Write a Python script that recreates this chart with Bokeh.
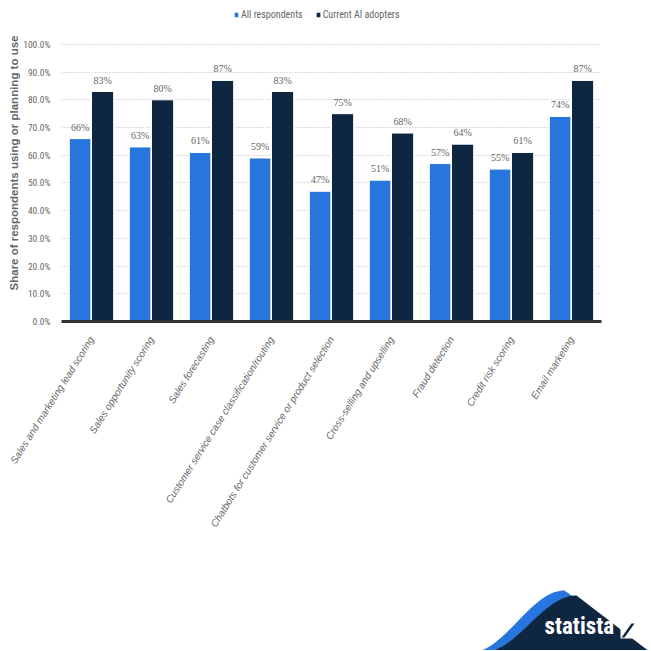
import numpy as np
from bokeh.plotting import figure
from bokeh.models import (ColumnDataSource, FactorRange, FixedTicker, LabelSet,
                          Legend, LegendItem, Label, CustomJSTickFormatter)
from bokeh.transform import dodge
from bokeh.layouts import column, row
from bokeh.embed import file_html
from bokeh.resources import INLINE

categories = [
    "Sales and marketing lead scoring",
    "Sales opportunity scoring",
    "Sales forecasting",
    "Customer service case classification/routing",
    "Chatbots for customer service or product selection",
    "Cross-selling and upselling",
    "Fraud detection",
    "Credit risk scoring",
    "Email marketing",
]
all_respondents = [66, 63, 61, 59, 47, 51, 57, 55, 74]
current_ai_adopters = [83, 80, 87, 83, 75, 68, 64, 61, 87]
y_ticks = [0, 10, 20, 30, 40, 50, 60, 70, 80, 90, 100]

BLUE = "#2876dd"
NAVY = "#0f2641"
GREY = "#666666"
FONT = "Liberation Sans Narrow, Arial Narrow, Roboto Condensed, Liberation Sans, sans-serif"

src = ColumnDataSource(dict(
    cat=categories,
    a=all_respondents,
    b=current_ai_adopters,
    a_lbl=[f"{v}%" for v in all_respondents],
    b_lbl=[f"{v}%" for v in current_ai_adopters],
))

p = figure(x_range=FactorRange(*categories, range_padding=0), y_range=(0, 114.4),
           width=650, height=580, output_backend="svg", toolbar_location=None,
           min_border_left=61, min_border_right=49, min_border_top=4, min_border_bottom=259)
p.outline_line_color = None

ra = p.vbar(x=dodge("cat", -0.19, range=p.x_range), top="a", width=0.36, source=src,
            fill_color=BLUE, line_color="white", line_width=1)
rb = p.vbar(x=dodge("cat", 0.185, range=p.x_range), top="b", width=0.37, source=src,
            fill_color=NAVY, line_color="white", line_width=1)

for key, lbl, off in (("a", "a_lbl", -0.19), ("b", "b_lbl", 0.185)):
    p.add_layout(LabelSet(x=dodge("cat", off, range=p.x_range), y=key, text=lbl, source=src,
                          text_align="center", text_baseline="bottom", y_offset=6,
                          text_font_size="10px", text_color=GREY, text_font=FONT))

legend = Legend(items=[LegendItem(label="All respondents", renderers=[ra]),
                       LegendItem(label="Current AI adopters", renderers=[rb])],
                location=(172, 301), orientation="horizontal",
                label_text_font_size="10px", label_text_color=GREY, label_text_font=FONT,
                glyph_width=6, glyph_height=7, label_standoff=2, spacing=12,
                border_line_color=None, background_fill_alpha=0, margin=0, padding=2,
                label_height=10)
p.add_layout(legend)

p.yaxis.ticker = FixedTicker(ticks=y_ticks)
p.yaxis.formatter = CustomJSTickFormatter(code="return tick.toFixed(1) + '%';")
p.yaxis.axis_line_color = None
p.yaxis.major_tick_line_color = None
p.yaxis.minor_tick_line_color = None
p.yaxis.major_label_text_font_size = "9.5px"
p.yaxis.major_label_text_color = GREY
p.yaxis.major_label_text_font = FONT
p.yaxis.major_label_standoff = 5
p.yaxis.axis_label = "Share of respondents using or planning to use"
p.yaxis.axis_label_text_font_size = "11.5px"
p.yaxis.axis_label_text_font_style = "bold"
p.yaxis.axis_label_text_color = GREY
p.yaxis.axis_label_text_font = "Liberation Sans"
p.yaxis.axis_label_standoff = 0

p.ygrid.ticker = FixedTicker(ticks=y_ticks[1:])
p.ygrid.grid_line_color = "#bbbbbb"
p.ygrid.grid_line_dash = "1 2"
p.xgrid.grid_line_color = None

p.xaxis.axis_line_color = "#333333"
p.xaxis.axis_line_width = 3
p.xaxis.major_tick_line_color = None
p.xaxis.minor_tick_line_color = None
p.xaxis.major_label_orientation = 1.01
p.xaxis.major_label_text_font_size = "10px"
p.xaxis.major_label_text_font_style = "italic"
p.xaxis.major_label_text_color = GREY
p.xaxis.major_label_text_font = "Liberation Sans"
p.xaxis.major_label_standoff = 10

# Statista logo strip (decoration)
lg = figure(width=650, height=70, x_range=(0, 650), y_range=(0, 70),
            output_backend="svg", toolbar_location=None, min_border=0)
lg.axis.visible = False
lg.grid.visible = False
lg.outline_line_color = None
t = np.linspace(0, 1, 40)
def curve(x0, x1, y0, y1):
    s = (1 - np.cos(np.pi * t)) / 2
    return x0 + (x1 - x0) * t, y0 + (y1 - y0) * s
cx, cy = curve(470, 564, -2, 60)
lg.patch(list(cx) + [650, 650], list(cy) + [-2, -2], fill_color=BLUE, line_color=None)
cx2, cy2 = curve(482, 576, -2, 55)
lg.patch(list(cx2) + [650, 650], list(cy2) + [-2, -2], fill_color=NAVY, line_color=None)
lg.add_layout(Label(x=544, y=11, text="statista", text_color="white", text_font_size="23px",
                    text_font_style="bold", text_font=FONT))
lg.quad(left=[620], right=[635], bottom=[12], top=[28], fill_color="white", line_color=None)
lg.patch([621, 624, 634, 631], [13, 13, 27, 27], fill_color=NAVY, line_color=None)

layout = column(p, row(lg), spacing=0)
open("out.html", "w").write(file_html(layout, INLINE))
